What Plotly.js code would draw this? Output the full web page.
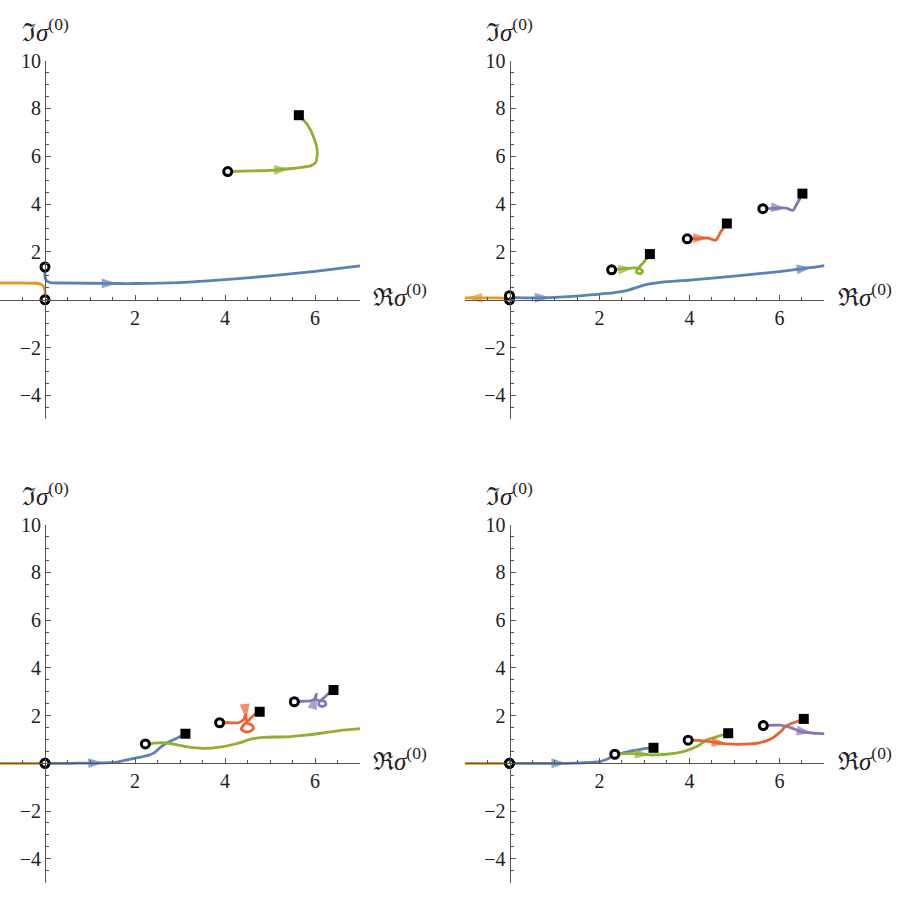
<!DOCTYPE html>
<html>
<head>
<meta charset="utf-8">
<script src="https://cdn.plot.ly/plotly-3.0.1.min.js"></script>
<style>
  html, body { margin: 0; padding: 0; background: #fff; }
  #chart { width: 899px; height: 899px; }
</style>
</head>
<body>
<div id="chart"></div>
<script>
// Mathematica default colours
const BLUE = '#5e81b5', ORANGE = '#e19c24', GREEN = '#8fb032', RED = '#eb6235', PURPLE = '#8778b3';

// ---- panel 1 (top left) ----
const p1OrangeX = [0, 0, -0.02, -0.08, -0.2, -0.5, -1.0];
const p1OrangeY = [0, 0.3, 0.52, 0.64, 0.69, 0.70, 0.70];
const p1BlueX = [0, 0, 0.04, 0.12, 0.4, 1.0, 1.6, 2, 3, 4, 5, 6, 7];
const p1BlueY = [1.37, 0.95, 0.78, 0.72, 0.70, 0.69, 0.68, 0.68, 0.72, 0.84, 1.0, 1.19, 1.42];
const p1GreenX = [4.06, 4.6, 5.0, 5.43, 5.7, 5.9, 6.02, 6.05, 5.97, 5.82, 5.64];
const p1GreenY = [5.36, 5.39, 5.41, 5.48, 5.54, 5.6, 5.75, 6.2, 6.8, 7.35, 7.72];

// ---- panel 2 (top right) ----
const p2OrangeX = [0, -0.1, -0.5, -0.95, -1.0];
const p2OrangeY = [0, 0.07, 0.08, 0.08, 0.08];
const p2BlueX = [0, 0.1, 0.5, 0.9, 1.5, 2.0, 2.3, 2.6, 2.85, 3.1, 3.4, 4, 5, 6, 6.72, 7];
const p2BlueY = [0.17, 0.1, 0.08, 0.09, 0.15, 0.24, 0.29, 0.38, 0.53, 0.66, 0.74, 0.82, 0.99, 1.18, 1.35, 1.43];
const p2GreenX = [2.27, 2.5, 2.75, 2.9, 2.96, 2.9, 2.82, 2.85, 2.95, 3.04, 3.12];
const p2GreenY = [1.25, 1.28, 1.33, 1.3, 1.18, 1.08, 1.15, 1.3, 1.5, 1.7, 1.91];
const p2RedX = [3.95, 4.15, 4.3, 4.42, 4.58, 4.62, 4.7, 4.83];
const p2RedY = [2.55, 2.56, 2.58, 2.58, 2.48, 2.58, 2.85, 3.19];
const p2PurpleX = [5.63, 5.85, 6.05, 6.15, 6.3, 6.34, 6.42, 6.51];
const p2PurpleY = [3.81, 3.82, 3.84, 3.83, 3.74, 3.85, 4.12, 4.44];

// ---- panel 3 (bottom left) ----
const p3OrangeX = [0, -0.5, -1];
const p3OrangeY = [0, 0, 0];
const p3BlueX = [0, 0.5, 1.0, 1.3, 1.6, 1.88, 2.1, 2.32, 2.45, 2.54, 2.69, 2.84, 3.03, 3.12];
const p3BlueY = [0, 0, 0.01, 0.02, 0.05, 0.17, 0.25, 0.35, 0.47, 0.63, 0.84, 0.98, 1.14, 1.24];
const p3GreenX = [2.23, 2.54, 2.77, 3.14, 3.51, 3.88, 4.25, 4.62, 4.84, 5.36, 5.8, 6.17, 6.54, 7.0];
const p3GreenY = [0.81, 0.86, 0.84, 0.7, 0.63, 0.68, 0.82, 1.03, 1.09, 1.11, 1.18, 1.27, 1.37, 1.45];
const p3RedX = [3.88, 4.1, 4.3, 4.42, 4.46, 4.47, 4.5, 4.6, 4.63, 4.56, 4.45, 4.36, 4.4, 4.55, 4.66, 4.77];
const p3RedY = [1.70, 1.70, 1.70, 1.85, 2.05, 1.85, 1.68, 1.6, 1.46, 1.34, 1.32, 1.42, 1.58, 1.85, 2.05, 2.16];
const p3PurpleX = [5.54, 5.75, 5.9, 6.0, 6.03, 6.0, 6.1, 6.22, 6.24, 6.16, 6.08, 6.1, 6.2, 6.3, 6.41];
const p3PurpleY = [2.58, 2.6, 2.62, 2.7, 2.9, 2.72, 2.62, 2.6, 2.46, 2.38, 2.45, 2.58, 2.75, 2.92, 3.07];

// ---- panel 4 (bottom right) ----
const p4OrangeX = [0, -0.5, -1];
const p4OrangeY = [0, 0, 0];
const p4BlueX = [0, 0.5, 1.0, 1.27, 1.6, 2.01, 2.2, 2.34, 2.55, 2.75, 3.05, 3.2];
const p4BlueY = [0, 0, 0, 0, 0.02, 0.07, 0.2, 0.33, 0.45, 0.53, 0.63, 0.65];
const p4GreenX = [2.34, 2.68, 2.95, 3.12, 3.49, 3.86, 4.16, 4.38, 4.6, 4.86];
const p4GreenY = [0.38, 0.42, 0.38, 0.35, 0.38, 0.49, 0.7, 0.98, 1.11, 1.26];
const p4RedX = [3.97, 4.2, 4.46, 4.83, 5.1, 5.34, 5.55, 5.72, 5.85, 5.94, 6.05, 6.12, 6.25, 6.38, 6.54];
const p4RedY = [0.97, 0.96, 0.91, 0.81, 0.79, 0.81, 0.86, 0.95, 1.06, 1.19, 1.37, 1.53, 1.66, 1.74, 1.86];
const p4PurpleX = [5.64, 5.85, 6.01, 6.2, 6.31, 6.45, 6.72, 6.85, 7.0];
const p4PurpleY = [1.58, 1.6, 1.6, 1.53, 1.45, 1.35, 1.27, 1.25, 1.24];

// tick labels (no label at the origin)
const xTickVals = [2, 4, 6];
const yTickVals = [-4, -2, 2, 4, 6, 8, 10];

// each curve: data, colour, indices of the points that carry an arrowhead
const panels = [
    [
        { x: p1OrangeX, y: p1OrangeY, color: ORANGE, arrows: [] },
        { x: p1BlueX, y: p1BlueY, color: BLUE, arrows: [6] },
        { x: p1GreenX, y: p1GreenY, color: GREEN, arrows: [3] }
    ],
    [
        { x: p2OrangeX, y: p2OrangeY, color: ORANGE, arrows: [3] },
        { x: p2BlueX, y: p2BlueY, color: BLUE, arrows: [3, 14] },
        { x: p2GreenX, y: p2GreenY, color: GREEN, arrows: [2] },
        { x: p2RedX, y: p2RedY, color: RED, arrows: [3] },
        { x: p2PurpleX, y: p2PurpleY, color: PURPLE, arrows: [3] }
    ],
    [
        { x: p3OrangeX, y: p3OrangeY, color: ORANGE, arrows: [] },
        { x: p3BlueX, y: p3BlueY, color: BLUE, arrows: [3] },
        { x: p3GreenX, y: p3GreenY, color: GREEN, arrows: [] },
        { x: p3RedX, y: p3RedY, color: RED, arrows: [5] },
        { x: p3PurpleX, y: p3PurpleY, color: PURPLE, arrows: [4] }
    ],
    [
        { x: p4OrangeX, y: p4OrangeY, color: ORANGE, arrows: [] },
        { x: p4BlueX, y: p4BlueY, color: BLUE, arrows: [3] },
        { x: p4GreenX, y: p4GreenY, color: GREEN, arrows: [3] },
        { x: p4RedX, y: p4RedY, color: RED, arrows: [3] },
        { x: p4PurpleX, y: p4PurpleY, color: PURPLE, arrows: [6] }
    ]
];

const X_RANGE = [-1, 7];
const Y_RANGE = [-5, 10];
const xDomains = [[0, 0.4005], [0.5167, 0.9171], [0, 0.4005], [0.5167, 0.9171]];
const yDomains = [[0.5336, 0.9325], [0.5336, 0.9325], [0.0182, 0.4164], [0.0182, 0.4164]];

const FONT = 'Liberation Serif';
const AXIS_COLOR = '#555';

const traces = [];
const annotations = [];
const layout = {
    width: 899,
    height: 899,
    margin: { l: 0, r: 0, t: 0, b: 0 },
    paper_bgcolor: '#fff',
    plot_bgcolor: 'rgba(0,0,0,0)',
    showlegend: false,
    font: { family: FONT, color: '#222' }
};

function baseAxis(vals) {
    return {
        anchor: 'free',
        showline: true,
        linecolor: AXIS_COLOR,
        linewidth: 1,
        showgrid: false,
        zeroline: false,
        ticks: 'inside',
        ticklen: 5,
        tickwidth: 1,
        tickcolor: AXIS_COLOR,
        tickmode: 'array',
        tickvals: vals,
        ticktext: vals.map(v => v < 0 ? '\u2212' + Math.abs(v) : String(v)),
        minor: { ticks: 'inside', ticklen: 3, tickcolor: AXIS_COLOR, tick0: 0, dtick: 0.5, showgrid: false },
        tickfont: { family: FONT, size: 20, color: '#222' },
        fixedrange: true
    };
}

panels.forEach((curves, i) => {
    const s = i === 0 ? '' : String(i + 1);
    const xd = xDomains[i], yd = yDomains[i];
    // data -> paper fraction for this panel
    const toPx = v => xd[0] + (v - X_RANGE[0]) / (X_RANGE[1] - X_RANGE[0]) * (xd[1] - xd[0]);
    const toPy = v => yd[0] + (v - Y_RANGE[0]) / (Y_RANGE[1] - Y_RANGE[0]) * (yd[1] - yd[0]);

    const xa = baseAxis(xTickVals), ya = baseAxis(yTickVals);
    xa.domain = xd;
    xa.range = X_RANGE;
    xa.position = toPy(0);
    ya.domain = yd;
    ya.range = Y_RANGE;
    ya.position = toPx(0);
    layout['xaxis' + s] = xa;
    layout['yaxis' + s] = ya;

    const xr = 'x' + s, yr = 'y' + s;

    curves.forEach(c => {
        traces.push({
            x: c.x, y: c.y, xaxis: xr, yaxis: yr,
            type: 'scatter', mode: 'lines',
            line: { color: c.color, width: 2.8, shape: 'spline', smoothing: 0.6 },
            hoverinfo: 'skip'
        });
        // arrowhead: tip on point k, pointing away from point k-1
        c.arrows.forEach(k => {
            traces.push({
                x: [c.x[k - 1], c.x[k]], y: [c.y[k - 1], c.y[k]], xaxis: xr, yaxis: yr,
                type: 'scatter', mode: 'markers', hoverinfo: 'skip', cliponaxis: false,
                marker: { symbol: 'arrow', angleref: 'previous', size: [0, 16], color: c.color, line: { width: 0 } }
            });
        });
    });

    // start points (open circles) and end points (squares) inside the view
    const sx = [], sy = [], ex = [], ey = [];
    curves.forEach(c => {
        sx.push(c.x[0]); sy.push(c.y[0]);
        const lx = c.x[c.x.length - 1];
        if (lx > X_RANGE[0] && lx < X_RANGE[1]) {
            ex.push(lx); ey.push(c.y[c.y.length - 1]);
        }
    });
    traces.push({
        x: ex, y: ey, xaxis: xr, yaxis: yr, type: 'scatter', mode: 'markers',
        marker: { symbol: 'square', size: 10, color: '#000' }, hoverinfo: 'skip', cliponaxis: false
    });
    traces.push({
        x: sx, y: sy, xaxis: xr, yaxis: yr, type: 'scatter', mode: 'markers',
        marker: { symbol: 'circle', size: 8, color: '#fff', line: { color: '#000', width: 3 } },
        hoverinfo: 'skip', cliponaxis: false
    });

    // axis labels (paper coordinates, they sit outside the axis ranges)
    annotations.push({
        xref: 'paper', yref: 'paper', x: toPx(0), y: toPy(11.3), xanchor: 'center', yanchor: 'middle',
        text: 'ℑ<i>σ</i><sup>(0)</sup>', showarrow: false,
        font: { family: FONT, size: 25, color: '#222' }
    });
    annotations.push({
        xref: 'paper', yref: 'paper', x: toPx(7.25), y: toPy(0.2), xanchor: 'left', yanchor: 'middle',
        text: 'ℜ<i>σ</i><sup>(0)</sup>', showarrow: false,
        font: { family: FONT, size: 25, color: '#222' }
    });
});

layout.annotations = annotations;

Plotly.newPlot('chart', traces, layout, { displayModeBar: false, staticPlot: true });
</script>
</body>
</html>
